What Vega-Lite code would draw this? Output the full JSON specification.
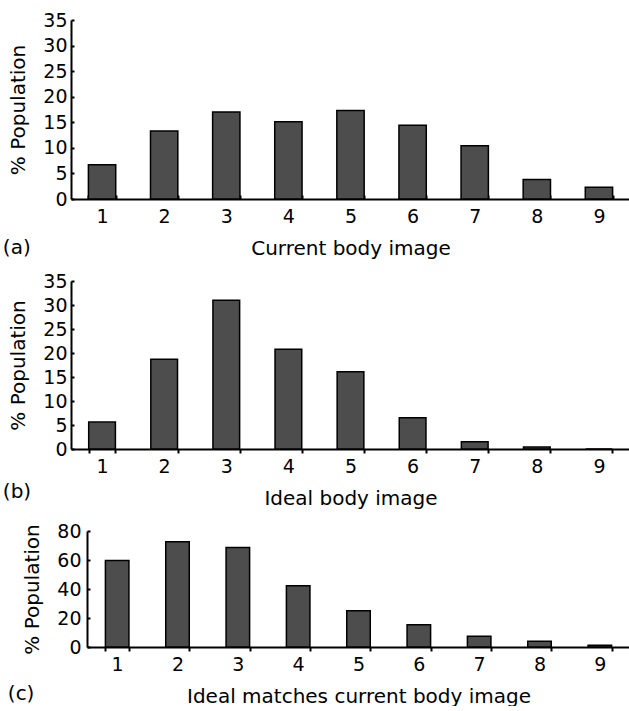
{
  "$schema": "https://vega.github.io/schema/vega-lite/v6.json",
  "background": "white",
  "padding": {"left": 2, "top": 11, "right": 0, "bottom": 0},
  "spacing": 14,
  "config": {
    "font": "DejaVu Sans",
    "view": {"stroke": null},
    "axis": {"labelFont": "DejaVu Sans", "titleFont": "DejaVu Sans", "labelFontSize": 19, "titleFontSize": 20, "titleFontWeight": "normal", "labelColor": "black", "titleColor": "black", "domainColor": "black", "domainWidth": 2, "tickColor": "black", "tickWidth": 2, "grid": false},
    "title": {"font": "DejaVu Sans", "fontSize": 20, "fontWeight": "normal", "color": "black"}
  },
  "vconcat": [
    {
      "width": 559, "height": 179,
      "title": {"text": "(a)", "orient": "bottom", "anchor": "start", "frame": "bounds", "dx": -6, "dy": -20, "offset": 0},
      "data": {"values": [
        {"image": 1, "pct": 6.7}, {"image": 2, "pct": 13.3}, {"image": 3, "pct": 17.0},
        {"image": 4, "pct": 15.1}, {"image": 5, "pct": 17.3}, {"image": 6, "pct": 14.4},
        {"image": 7, "pct": 10.4}, {"image": 8, "pct": 3.8}, {"image": 9, "pct": 2.3}
      ]},
      "mark": {"type": "bar", "color": "#4d4d4d", "stroke": "black", "strokeWidth": 1.5},
      "encoding": {
        "x": {"field": "image", "type": "ordinal", "scale": {"paddingInner": 0.56, "paddingOuter": 0.28},
              "axis": {"title": "Current body image", "labelAngle": 0, "tickBand": "extent", "tickSize": -4, "labelPadding": 12, "titlePadding": 12}},
        "y": {"field": "pct", "type": "quantitative", "scale": {"domain": [0, 35], "nice": false},
              "axis": {"title": "% Population", "values": [0, 5, 10, 15, 20, 25, 30, 35], "tickSize": -3, "labelPadding": 7, "titlePadding": 14}}
      }
    },
    {
      "width": 559, "height": 168,
      "title": {"text": "(b)", "orient": "bottom", "anchor": "start", "frame": "bounds", "dx": -6, "dy": -26, "offset": 0},
      "data": {"values": [
        {"image": 1, "pct": 5.6}, {"image": 2, "pct": 18.7}, {"image": 3, "pct": 31.0},
        {"image": 4, "pct": 20.8}, {"image": 5, "pct": 16.1}, {"image": 6, "pct": 6.5},
        {"image": 7, "pct": 1.5}, {"image": 8, "pct": 0.4}, {"image": 9, "pct": 0}
      ]},
      "mark": {"type": "bar", "color": "#4d4d4d", "stroke": "black", "strokeWidth": 1.5},
      "encoding": {
        "x": {"field": "image", "type": "ordinal", "scale": {"paddingInner": 0.57, "paddingOuter": 0.285},
              "axis": {"title": "Ideal body image", "labelAngle": 0, "tickBand": "extent", "tickSize": 4, "labelPadding": 4, "titlePadding": 12}},
        "y": {"field": "pct", "type": "quantitative", "scale": {"domain": [0, 35], "nice": false},
              "axis": {"title": "% Population", "values": [0, 5, 10, 15, 20, 25, 30, 35], "tickSize": -3, "labelPadding": 7, "titlePadding": 14}}
      }
    },
    {
      "width": 559, "height": 116,
      "title": {"text": "(c)", "orient": "bottom", "anchor": "start", "frame": "bounds", "dx": -15, "dy": -22, "offset": 0},
      "data": {"values": [
        {"image": 1, "pct": 59.7}, {"image": 2, "pct": 72.6}, {"image": 3, "pct": 68.7},
        {"image": 4, "pct": 42.3}, {"image": 5, "pct": 25.0}, {"image": 6, "pct": 15.4},
        {"image": 7, "pct": 7.5}, {"image": 8, "pct": 4.0}, {"image": 9, "pct": 1.2}
      ]},
      "mark": {"type": "bar", "color": "#4d4d4d", "stroke": "black", "strokeWidth": 1.5},
      "encoding": {
        "x": {"field": "image", "type": "ordinal", "scale": {"range": [16, 559], "paddingInner": 0.61, "paddingOuter": 0.305},
              "axis": {"title": "Ideal matches current body image", "labelAngle": 0, "tickBand": "extent", "tickSize": 4, "labelPadding": 4, "titlePadding": 12}},
        "y": {"field": "pct", "type": "quantitative", "scale": {"domain": [0, 80], "nice": false},
              "axis": {"title": "% Population", "values": [0, 20, 40, 60, 80], "offset": -16, "tickSize": -3, "labelPadding": 9, "titlePadding": 14}}
      }
    }
  ]
}
